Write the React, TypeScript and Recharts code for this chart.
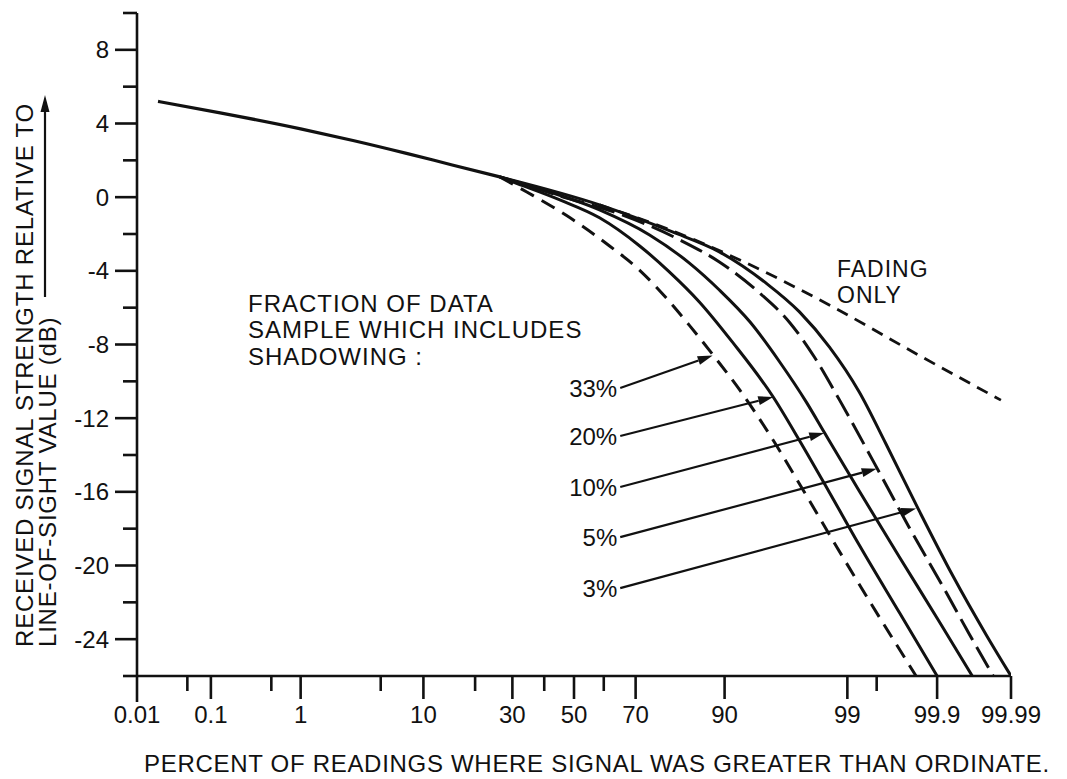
import React from 'react';
import { LineChart, Line, XAxis, YAxis, ReferenceLine } from 'recharts';

const FONT = '"Liberation Sans", Arial, Helvetica, sans-serif';
const INK = '#111';

// x axis: normal-probability scale, labelled in percent
const X_MAJOR = [0.01, 0.1, 1, 10, 30, 50, 70, 90, 99, 99.9, 99.99];
const X_MINOR = [0.05, 0.5, 5, 20, 40, 60, 99.5];
const Y_TICKS = [-26, -24, -22, -20, -18, -16, -14, -12, -10, -8, -6, -4, -2, 0, 2, 4, 6, 8, 10];
const Y_LABELED = [-24, -20, -16, -12, -8, -4, 0, 4, 8];

// common part of all curves
const trunkPct = [0.02, 0.13, 1, 3, 7.7, 15, 26.4];
const trunkDb = [5.2, 4.58, 3.71, 3.08, 2.38, 1.75, 1.1];

// 33 % shadowed (dashed)
const c33Pct = [26.4, 34.4, 47.5, 61.9, 71.2, 78.0, 83.7, 88.1, 92.1, 95.5, 97.5, 98.72, 99.44, 99.69, 99.82];
const c33Db = [1.1, 0.28, -1.0, -2.65, -3.97, -5.38, -6.96, -8.54, -10.48, -13.2, -16.01, -18.95, -22.16, -24.22, -26];

// 20 %
const c20Pct = [26.4, 30.1, 45.2, 58.6, 71.2, 79.2, 85.7, 91.1, 95.5, 97.25, 98.51, 99.24, 99.72, 99.9];
const c20Db = [1.1, 0.83, -0.15, -1.12, -2.65, -4.07, -5.69, -7.86, -10.85, -13.21, -16.02, -18.89, -22.57, -26];

// 10 %
const c10Pct = [26.4, 38.5, 58.6, 74.0, 83.7, 89.2, 93.3, 96.0, 97.6, 98.34, 99.24, 99.72, 99.907, 99.965];
const c10Db = [1.1, 0.45, -0.69, -2.05, -3.58, -5.04, -6.78, -8.95, -11.13, -12.77, -15.96, -19.55, -23.08, -26];

// 5 %
const c5Pct = [26.4, 45.2, 65.1, 81.6, 89.2, 94.3, 96.7, 97.96, 98.81, 99.47, 99.78, 99.92, 99.962, 99.982];
const c5Db = [1.1, 0.07, -0.91, -2.32, -3.52, -5.21, -6.83, -8.68, -11.02, -14.44, -17.88, -21.33, -23.76, -26];

// 3 %
const c3Pct = [26.4, 58.6, 79.9, 89.2, 94.9, 97.25, 98.51, 99.24, 99.6, 99.84, 99.936, 99.978, 99.99];
const c3Db = [1.1, -0.42, -1.89, -2.97, -4.67, -6.23, -8.13, -10.58, -13.36, -17.16, -20.52, -23.84, -26];

// fading only (short dashes)
const fadePct = [58.6, 79.9, 92.1, 98.62, 99.84, 99.986];
const fadeDb = [-0.42, -1.83, -3.41, -5.96, -8.63, -11.02];

// annotation arrows
const arrowLabels = ['33%', '20%', '10%', '5%', '3%'];
const arrowFromPct = [65.3, 65.3, 65.3, 65.3, 65.3];
const arrowFromDb = [-10.36, -12.97, -15.74, -18.46, -21.23];
const arrowToPct = [88.1, 95.5, 98.34, 99.5, 99.82];
const arrowToDb = [-8.6, -10.85, -12.8, -14.75, -16.9];

// inverse normal CDF (Acklam)
function probit(p: number): number {
	const a = [-39.69683028665376, 220.9460984245205, -275.9285104469687, 138.357751867269, -30.66479806614716, 2.506628277459239];
	const b = [-54.47609879822406, 161.5858368580409, -155.6989798598866, 66.80131188771972, -13.28068155288572];
	const c = [-0.007784894002430293, -0.3223964580411365, -2.400758277161838, -2.549671348004284, 4.374664141464968, 2.938163982698783];
	const d = [0.007784695709041462, 0.3224671290700398, 2.445134137142996, 3.754408661907416];
	const lo = 0.02425;
	if (p < lo) {
		const q = Math.sqrt(-2 * Math.log(p));
		return (((((c[0] * q + c[1]) * q + c[2]) * q + c[3]) * q + c[4]) * q + c[5]) / ((((d[0] * q + d[1]) * q + d[2]) * q + d[3]) * q + 1);
	}
	if (p > 1 - lo) {
		const q = Math.sqrt(-2 * Math.log(1 - p));
		return -(((((c[0] * q + c[1]) * q + c[2]) * q + c[3]) * q + c[4]) * q + c[5]) / ((((d[0] * q + d[1]) * q + d[2]) * q + d[3]) * q + 1);
	}
	const q = p - 0.5;
	const r = q * q;
	return (((((a[0] * r + a[1]) * r + a[2]) * r + a[3]) * r + a[4]) * r + a[5]) * q / (((((b[0] * r + b[1]) * r + b[2]) * r + b[3]) * r + b[4]) * r + 1);
}

const zOf = (pct: number) => probit(pct / 100);
const toPts = (pct: number[], db: number[]) => pct.map((p, i) => ({ z: zOf(p), db: db[i] }));

const X_DOMAIN = [zOf(0.01), zOf(99.99)];
const X_TICKS = [...X_MAJOR, ...X_MINOR].sort((a, b) => a - b).map(zOf);

const XTick = (props: any) => {
	const { x, y, payload } = props;
	const major = X_MAJOR.find((p) => Math.abs(zOf(p) - payload.value) < 1e-6);
	const len = major === undefined ? 15 : major === 0.01 ? 26 : 23;
	return (
		<g>
			<line x1={x} y1={y} x2={x} y2={y + len} stroke={INK} strokeWidth={2.6} />
			{major !== undefined && (
				<text x={x} y={y + 47} textAnchor="middle" fontSize={24} fill={INK} fontFamily={FONT}>
					{String(major)}
				</text>
			)}
		</g>
	);
};

const YTick = (props: any) => {
	const { x, y, payload } = props;
	const labeled = Y_LABELED.includes(payload.value);
	const len = labeled ? 22 : 14;
	return (
		<g>
			<line x1={x - len} y1={y} x2={x} y2={y} stroke={INK} strokeWidth={2.6} />
			{labeled && (
				<text x={x - 28} y={y + 8.5} textAnchor="end" fontSize={24} fill={INK} fontFamily={FONT}>
					{String(payload.value)}
				</text>
			)}
		</g>
	);
};

const Arrow = (props: any) => {
	const { x1, y1, x2, y2, label } = props;
	const ang = Math.atan2(y2 - y1, x2 - x1);
	const L = 15;
	const W = 4.5;
	const bx = x2 - L * Math.cos(ang);
	const by = y2 - L * Math.sin(ang);
	const px = -Math.sin(ang) * W;
	const py = Math.cos(ang) * W;
	return (
		<g>
			<line x1={x1} y1={y1} x2={bx} y2={by} stroke={INK} strokeWidth={2.2} />
			<polygon points={`${x2},${y2} ${bx + px},${by + py} ${bx - px},${by - py}`} fill={INK} />
			<text x={x1 - 3} y={y1 + 9} textAnchor="end" fontSize={24} fill={INK} fontFamily={FONT}>
				{label}
			</text>
		</g>
	);
};

const series = [
	{ key: 'trunk', pts: toPts(trunkPct, trunkDb), dash: undefined, w: 3.2 },
	{ key: 'c33', pts: toPts(c33Pct, c33Db), dash: '15 9', w: 3 },
	{ key: 'c20', pts: toPts(c20Pct, c20Db), dash: undefined, w: 3 },
	{ key: 'c10', pts: toPts(c10Pct, c10Db), dash: undefined, w: 3 },
	{ key: 'c5', pts: toPts(c5Pct, c5Db), dash: '24 8', w: 3 },
	{ key: 'c3', pts: toPts(c3Pct, c3Db), dash: undefined, w: 3 },
	{ key: 'fade', pts: toPts(fadePct, fadeDb), dash: '12 8', w: 2.8 },
];

export default function App() {
	return (
		<div style={{ position: 'absolute', left: 0, top: 0, width: 1067, height: 779, background: '#fff' }}>
			<LineChart width={1067} height={779} margin={{ top: 13, right: 56, bottom: 0, left: 37 }}>
				<XAxis
					type="number"
					dataKey="z"
					domain={X_DOMAIN}
					ticks={X_TICKS}
					interval={0}
					allowDataOverflow
					height={103}
					tickLine={false}
					tickSize={0}
					tickMargin={0}
					axisLine={{ stroke: INK, strokeWidth: 2.6 }}
					tick={(p: any) => <XTick {...p} />}
				/>
				<YAxis
					type="number"
					domain={[-26, 10]}
					ticks={Y_TICKS}
					interval={0}
					allowDataOverflow
					width={100}
					tickLine={false}
					tickSize={0}
					tickMargin={0}
					axisLine={{ stroke: INK, strokeWidth: 2.6 }}
					tick={(p: any) => <YTick {...p} />}
				/>
				{series.map((s) => (
					<Line
						key={s.key}
						data={s.pts}
						dataKey="db"
						type="monotone"
						stroke={INK}
						strokeWidth={s.w}
						strokeDasharray={s.dash}
						dot={false}
						activeDot={false}
						isAnimationActive={false}
					/>
				))}
				{arrowLabels.map((lab, i) => (
					<ReferenceLine
						key={lab}
						segment={[
							{ x: zOf(arrowFromPct[i]), y: arrowFromDb[i] },
							{ x: zOf(arrowToPct[i]), y: arrowToDb[i] },
						]}
						ifOverflow="visible"
						shape={(p: any) => <Arrow {...p} label={lab} />}
					/>
				))}
			</LineChart>
			<svg
				width={1067}
				height={779}
				style={{ position: 'absolute', left: 0, top: 0, pointerEvents: 'none' }}
				fontFamily={FONT}
				fill={INK}
			>
				<text transform="translate(33,647) rotate(-90)" fontSize={24} letterSpacing={0.8}>
					RECEIVED SIGNAL STRENGTH RELATIVE TO
				</text>
				<text transform="translate(56,647) rotate(-90)" fontSize={24} letterSpacing={0.8}>
					LINE-OF-SIGHT VALUE (dB)
				</text>
				<line x1={45} y1={297} x2={45} y2={110} stroke={INK} strokeWidth={2.2} />
				<polygon points="45,95 40.5,112 49.5,112" fill={INK} />
				<text x={597} y={772} textAnchor="middle" fontSize={24} letterSpacing={0.7}>
					PERCENT OF READINGS WHERE SIGNAL WAS GREATER THAN ORDINATE.
				</text>
				<text x={248} y={312} fontSize={24} letterSpacing={1}>FRACTION OF DATA</text>
				<text x={248} y={338} fontSize={24} letterSpacing={1}>SAMPLE WHICH INCLUDES</text>
				<text x={248} y={365} fontSize={24} letterSpacing={1}>SHADOWING :</text>
				<text x={837} y={277} fontSize={23} letterSpacing={1}>FADING</text>
				<text x={837} y={303} fontSize={23} letterSpacing={1}>ONLY</text>
			</svg>
		</div>
	);
}
